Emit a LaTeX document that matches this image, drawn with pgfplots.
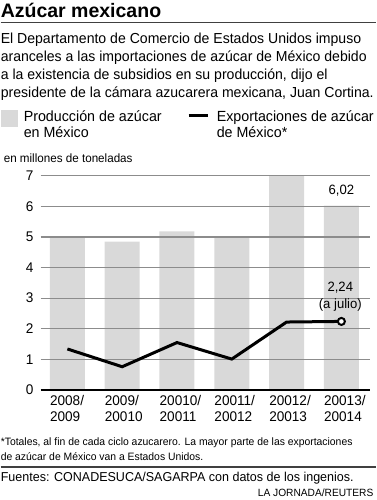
\documentclass[border=0pt]{standalone}
\usepackage{pgfplots}
\pgfplotsset{compat=1.18}
\usepackage{fontspec}
\setmainfont{Liberation Sans}[FakeStretch=0.97]
\newfontfamily\titlefont{Liberation Sans}
\definecolor{bargray}{HTML}{D9D9D9}
\definecolor{gridgray}{HTML}{8C8C8C}
\pgfplotstableread{
x prod exp
0 5.00 1.34
1 4.85 0.76
2 5.18 1.55
3 5.00 1.01
4 7.00 2.22
5 6.02 2.24
}\datatable
\begin{document}
\begin{tikzpicture}[txt/.style={anchor=base west,inner sep=0pt}]
\path (0pt,0pt) rectangle (375pt,500pt);
% title
\node[txt,font=\titlefont\bfseries\fontsize{19.5}{22}\selectfont] at (0pt,482pt) {Azúcar mexicano};
\draw[line width=1.2pt,black!75] (0pt,477.3pt) -- (375pt,477.3pt);
\begin{scope}[every node/.style={txt,font=\fontsize{14.5}{18}\selectfont}]
\node at (0pt,456.7pt) {El Departamento de Comercio de Estados Unidos impuso};
\node at (0pt,438.7pt) {aranceles a las importaciones de azúcar de México debido};
\node at (0pt,420.7pt) {a la existencia de subsidios en su producción, dijo el};
\node at (0pt,402.7pt) {presidente de la cámara azucarera mexicana, Juan Cortina.};
\end{scope}
% legend
\fill[bargray] (0pt,373pt) rectangle (17pt,390pt);
\draw[line width=3pt,black] (188pt,384pt) -- (207pt,384pt);
\begin{scope}[every node/.style={txt,font=\fontsize{14.7}{16.5}\selectfont}]
\node at (23pt,378.3pt) {Producción de azúcar};
\node at (23pt,362pt) {en México};
\node at (216pt,378.3pt) {Exportaciones de azúcar};
\node at (216pt,362pt) {de México*};
\end{scope}
\node[txt,font=\fontsize{12}{14}\selectfont] at (3pt,337pt) {en millones de toneladas};
\begin{axis}[
  set layers=standard,
  at={(40pt,110pt)}, anchor=south west,
  scale only axis, width=329pt, height=214.3pt,
  xmin=-0.489, xmax=5.515, ymin=0, ymax=7,
  clip=false,
  axis line style={draw=none},
  tick style={draw=none},
  ymajorgrids,
  grid style={gridgray,line width=1.3pt},
  ytick={1,2,...,7},
  extra y ticks={0},
  extra y tick labels={0},
  extra y tick style={grid style={black,line width=1.5pt}},
  xtick={0,1,2,3,4,5},
  xticklabels={{2008/\\2009},{2009/\\20010},{20010/\\20011},{20011/\\20012},{20012/\\20013},{20013/\\20014}},
  xticklabel style={anchor=north west,inner sep=0pt,xshift=-17.5pt,yshift=-5pt,align=left,font=\fontsize{14}{16.5}\selectfont},
  yticklabel style={anchor=east,inner sep=0pt,xshift=-7pt,font=\fontsize{14}{16}\selectfont},
  /pgf/number format/assume math mode=true,
]
\addplot[ybar,bar width=35pt,fill=bargray,draw=none,on layer=axis background] table[x=x,y=prod] {\datatable};
\addplot[black,line width=3pt,mark=*,mark indices={6},mark size=3.5pt,mark options={fill=white,line width=2pt}] table[x=x,y=exp] {\datatable};
\node[font=\fontsize{13.5}{15}\selectfont] at (axis cs:5,6.5) {6,02};
\node[font=\fontsize{13.5}{15}\selectfont] at (axis cs:4.98,3.33) {2,24};
\node[font=\fontsize{13.5}{15}\selectfont] at (axis cs:4.98,2.78) {(a julio)};
\end{axis}
\begin{scope}[every node/.style={txt,font=\fontsize{10.7}{15}\selectfont}]
\node at (0pt,54.5pt) {*Totales, al fin de cada ciclo azucarero. La mayor parte de las exportaciones};
\node at (0pt,39.5pt) {de azúcar de México van a Estados Unidos.};
\end{scope}
\draw[line width=1.2pt,black!75] (0pt,33pt) -- (375pt,33pt);
\node[txt,font=\fontsize{12.9}{15}\selectfont] at (0pt,18.5pt) {Fuentes: CONADESUCA/SAGARPA con datos de los ingenios.};
\node[anchor=base east,inner sep=0pt,font=\fontsize{10.5}{15}\selectfont] at (373pt,3.5pt) {LA JORNADA/REUTERS};
\end{tikzpicture}
\end{document}
